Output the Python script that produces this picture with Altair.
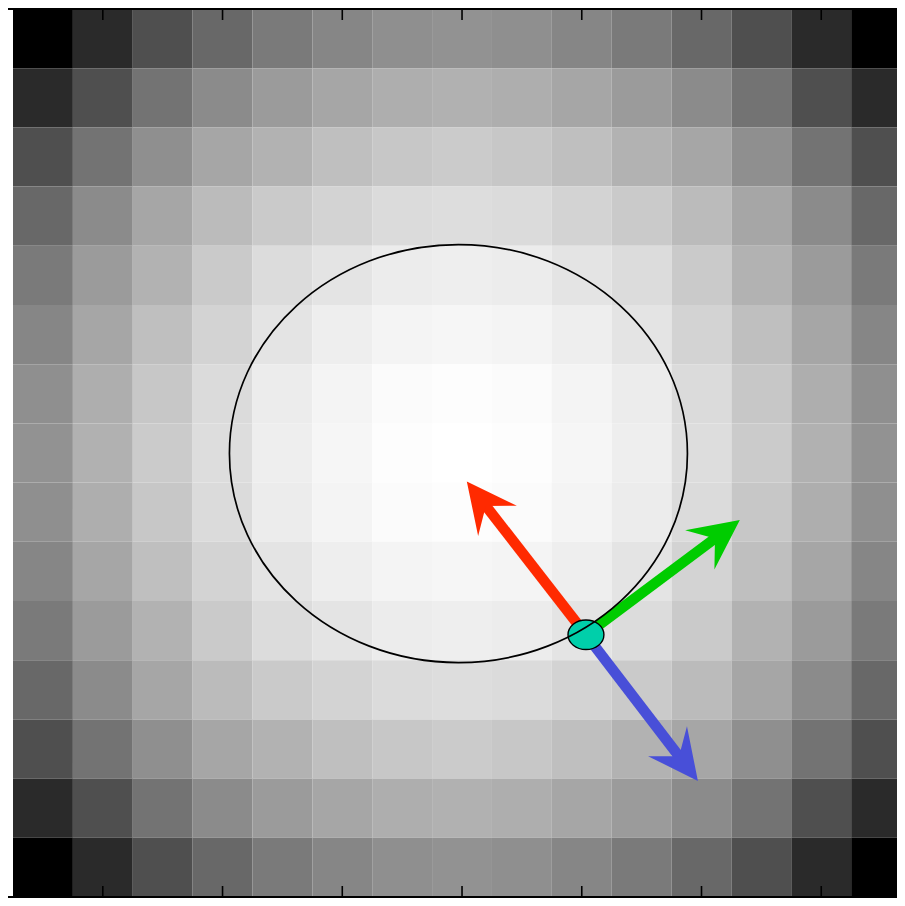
import math
import altair as alt
import pandas as pd

# ---- data ----
# gray level (0 = black, 255 = white) of every cell, row by row (top to bottom)
ROW_00 = [0, 42, 79, 104, 122, 134, 143, 146, 143, 134, 122, 104, 79, 42, 0]
ROW_01 = [42, 79, 115, 139, 155, 166, 174, 177, 174, 166, 155, 139, 115, 79, 42]
ROW_02 = [79, 115, 143, 166, 178, 191, 199, 203, 199, 191, 178, 166, 143, 115, 79]
ROW_03 = [104, 139, 166, 187, 202, 211, 219, 221, 219, 211, 202, 187, 166, 139, 104]
ROW_04 = [122, 155, 178, 202, 220, 228, 236, 238, 236, 228, 220, 202, 178, 155, 122]
ROW_05 = [134, 166, 191, 211, 228, 238, 244, 246, 244, 238, 228, 211, 191, 166, 134]
ROW_06 = [143, 174, 199, 219, 236, 244, 251, 253, 251, 244, 236, 219, 199, 174, 143]
ROW_07 = [146, 177, 203, 221, 238, 246, 253, 255, 253, 246, 238, 221, 203, 177, 146]
ROW_08 = [143, 174, 199, 219, 236, 244, 251, 253, 251, 244, 236, 219, 199, 174, 143]
ROW_09 = [134, 166, 191, 211, 228, 238, 244, 246, 244, 238, 228, 211, 191, 166, 134]
ROW_10 = [122, 155, 178, 202, 220, 228, 236, 238, 236, 228, 220, 202, 178, 155, 122]
ROW_11 = [104, 139, 166, 187, 202, 211, 219, 221, 219, 211, 202, 187, 166, 139, 104]
ROW_12 = [79, 115, 143, 166, 178, 191, 199, 203, 199, 191, 178, 166, 143, 115, 79]
ROW_13 = [42, 79, 115, 139, 155, 166, 174, 177, 174, 166, 155, 139, 115, 79, 42]
ROW_14 = [0, 42, 79, 104, 122, 134, 143, 146, 143, 134, 122, 104, 79, 42, 0]
GRID = [ROW_00, ROW_01, ROW_02, ROW_03, ROW_04, ROW_05, ROW_06, ROW_07,
        ROW_08, ROW_09, ROW_10, ROW_11, ROW_12, ROW_13, ROW_14]

# large ellipse (data units of the image grid)
ELLIPSE_CX = [6.94]
ELLIPSE_CY = [7.01]
ELLIPSE_W = [7.65]
ELLIPSE_H = [7.06]

# small marker ellipse on the large one
DOT_CX = [9.07]
DOT_CY = [10.07]
DOT_W = [0.60]
DOT_H = [0.50]

# arrows starting at the marker: components (u right, v down)
ARROW_NAMES = ["red", "green", "blue"]
ARROW_U = [-1.99, 2.57, 1.87]
ARROW_V = [-2.59, -1.94, 2.47]
ARROW_COLORS = ["#ff2a00", "#00cc00", "#484fd8"]

TICKS = [1, 3, 5, 7, 9, 11, 13]

# ---- layout (svg must fit the 905x906 window minus the 8px page margin) ----
W = 889
H = 888
CELL_X = 59.87
XMIN = -0.5 - 5 / CELL_X
XMAX = XMIN + W / CELL_X
YMIN, YMAX = -0.5, 14.5
CELL_Y = H / (YMAX - YMIN)

xs = alt.Scale(domain=[XMIN, XMAX], nice=False, zero=False)
ys = alt.Scale(domain=[YMIN, YMAX], nice=False, zero=False, reverse=True)

# heatmap table
cells = []
for r, row in enumerate(GRID):
    for c, g in enumerate(row):
        cells.append({"x0": c - 0.5, "x1": c + 0.5, "y0": r - 0.5, "y1": r + 0.5, "g": g})
cells = pd.DataFrame(cells)

heat = alt.Chart(cells).mark_rect(clip=True, strokeWidth=0).encode(
    x=alt.X("x0:Q", scale=xs, axis=None),
    x2="x1:Q",
    y=alt.Y("y0:Q", scale=ys, axis=None),
    y2="y1:Q",
    color=alt.Color("g:Q", scale=alt.Scale(domain=[0, 255], range=["#000000", "#ffffff"],
                                           interpolate="rgb"), legend=None),
)

# arrows
rows = []
HEAD_LEN = 50.0
for name, u, v, col in zip(ARROW_NAMES, ARROW_U, ARROW_V, ARROW_COLORS):
    dxp, dyp = u * CELL_X, v * CELL_Y
    L = math.hypot(dxp, dyp)
    f = 1 - 28.0 / L
    ang = math.degrees(math.atan2(dxp, -dyp)) % 360
    rows.append({"name": name, "x": DOT_CX[0], "y": DOT_CY[0],
                 "xs": DOT_CX[0] + u * f, "ys": DOT_CY[0] + v * f,
                 "xt": DOT_CX[0] + u, "yt": DOT_CY[0] + v,
                 "ang": ang, "col": col})
arrows = pd.DataFrame(rows)

shafts = alt.Chart(arrows).mark_rule(strokeWidth=10.5, strokeCap="butt").encode(
    x=alt.X("x:Q", scale=xs), y=alt.Y("y:Q", scale=ys),
    x2="xs:Q", y2="ys:Q",
    color=alt.Color("col:N", scale=None),
)

HEAD_PATH = "M0,0 L0.98,2 L0,1.24 L-0.98,2 Z"
heads = alt.Chart(arrows).mark_point(shape=HEAD_PATH, size=(HEAD_LEN) ** 2, filled=True,
                                     opacity=1, strokeWidth=0).encode(
    x=alt.X("xt:Q", scale=xs), y=alt.Y("yt:Q", scale=ys),
    angle=alt.Angle("ang:Q", scale=None),
    color=alt.Color("col:N", scale=None),
)

# small marker ellipse
dot_df = pd.DataFrame({"x": DOT_CX, "y": DOT_CY})
dot_rx = DOT_W[0] / 2 * CELL_X
dot_ry = DOT_H[0] / 2 * CELL_Y
dr = dot_rx / dot_ry
DOT_PATH = f"M{-dr:.4f},0 A{dr:.4f},1 0 1 0 {dr:.4f},0 A{dr:.4f},1 0 1 0 {-dr:.4f},0 Z"
dot = alt.Chart(dot_df).mark_point(shape=DOT_PATH, size=(2 * dot_ry) ** 2, filled=True,
                                   fill="#00cfaa", stroke="#000000", strokeWidth=1.4,
                                   opacity=1).encode(
    x=alt.X("x:Q", scale=xs), y=alt.Y("y:Q", scale=ys),
)

# large ellipse outline
ell_df = pd.DataFrame({"x": ELLIPSE_CX, "y": ELLIPSE_CY})
ell_rx = ELLIPSE_W[0] / 2 * CELL_X
ell_ry = ELLIPSE_H[0] / 2 * CELL_Y
er = ell_rx / ell_ry
ELL_PATH = f"M{-er:.4f},0 A{er:.4f},1 0 1 0 {er:.4f},0 A{er:.4f},1 0 1 0 {-er:.4f},0 Z"
ellipse = alt.Chart(ell_df).mark_point(shape=ELL_PATH, size=(2 * ell_ry) ** 2, filled=False,
                                       fill="transparent", stroke="#000000", strokeWidth=1.7,
                                       opacity=1).encode(
    x=alt.X("x:Q", scale=xs), y=alt.Y("y:Q", scale=ys),
)

# spines (top and bottom) and inward ticks
spine_df = pd.DataFrame({"k": [0]})
top_spine = alt.Chart(spine_df).mark_rule(color="black", strokeWidth=1.8).encode(
    x=alt.value(0), x2=alt.value(W), y=alt.value(0))
bot_spine = alt.Chart(spine_df).mark_rule(color="black", strokeWidth=1.8).encode(
    x=alt.value(0), x2=alt.value(W), y=alt.value(H))

tick_df = pd.DataFrame({"t": TICKS})
top_ticks = alt.Chart(tick_df).mark_rule(color="black", strokeWidth=1.6).encode(
    x=alt.X("t:Q", scale=xs), y=alt.value(0), y2=alt.value(11))
bot_ticks = alt.Chart(tick_df).mark_rule(color="black", strokeWidth=1.6).encode(
    x=alt.X("t:Q", scale=xs), y=alt.value(H - 11), y2=alt.value(H))

chart = alt.layer(
    heat, shafts, heads, dot, ellipse, top_spine, bot_spine, top_ticks, bot_ticks
).properties(
    width=W, height=H,
    autosize=alt.AutoSizeParams(type="none"),
    padding={"left": 0, "top": 1, "right": 0, "bottom": 1},
).configure_view(strokeWidth=0)

chart.save("out.html", embed_options={"renderer": "svg", "actions": False})
